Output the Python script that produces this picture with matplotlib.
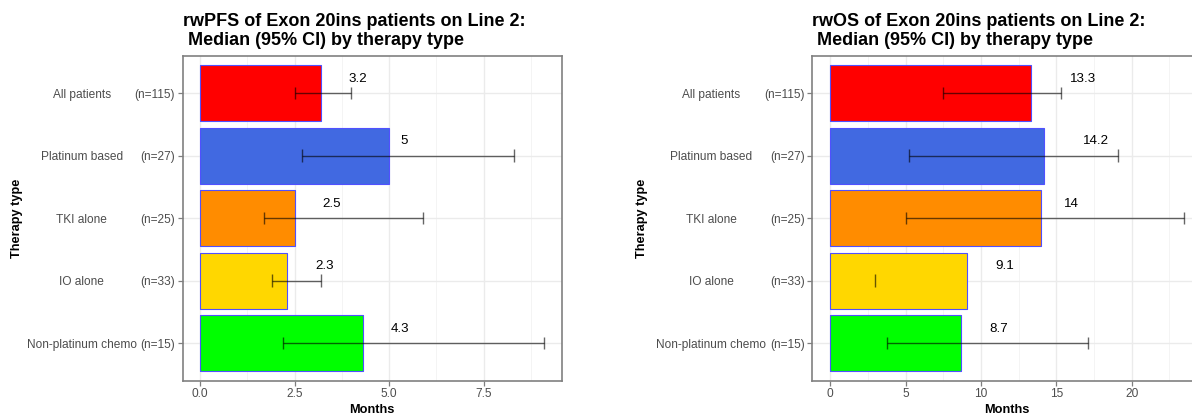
import numpy as np
import matplotlib.pyplot as plt
from matplotlib.ticker import MultipleLocator, FormatStrFormatter
from matplotlib import transforms

plt.rcParams['font.family'] = ['Liberation Sans', 'DejaVu Sans']

# therapy groups, top to bottom
therapies = ["All patients", "Platinum based", "TKI alone", "IO alone", "Non-platinum chemo"]
n_pat = [115, 27, 25, 33, 15]
bar_cols = ["#FF0000", "#4169E1", "#FF8C00", "#FFD700", "#00FF00"]

# rwPFS median and 95% CI (months)
pfs_med = [3.2, 5.0, 2.5, 2.3, 4.3]
pfs_lo = [2.5, 2.7, 1.7, 1.9, 2.2]
pfs_hi = [4.0, 8.3, 5.9, 3.2, 9.1]

# rwOS median and 95% CI (months); IO alone has no upper bound
os_med = [13.3, 14.2, 14.0, 9.1, 8.7]
os_lo = [7.5, 5.2, 5.0, 3.0, 3.8]
os_hi = [15.3, 19.1, 23.5, np.nan, 17.1]

fig = plt.figure(figsize=(11.92, 4.16), dpi=100)
ax1 = fig.add_axes([0.1533, 0.0849, 0.3178, 0.7812])
ax2 = fig.add_axes([0.6816, 0.0849, 0.3268, 0.7812])

labels_all = []
LAB_DY = 11.5  # points above the bar centre


def panel(ax, title, med, lo, hi, major, minor, fmt, ylab_px):
    y = np.arange(len(therapies))
    ax.barh(y, med, height=0.9, color=bar_cols, edgecolor="#5050FF", linewidth=0.8, zorder=2)

    # error bars with caps of 0.2 category units
    for yi, l, h in zip(y, lo, hi):
        kw = dict(color="black", alpha=0.6, linewidth=1.0, zorder=3)
        if not np.isnan(h):
            ax.hlines(yi, l, h, **kw)
            ax.vlines(h, yi - 0.1, yi + 0.1, **kw)
        ax.vlines(l, yi - 0.1, yi + 0.1, **kw)

    for yi, m in zip(y, med):
        s = "%g" % m
        t = ax.annotate(s, (m, yi), xytext=(0, LAB_DY), textcoords="offset points",
                        ha="left", va="center_baseline", fontsize=9.6, color="black", zorder=4)
        labels_all.append(t)

    top = np.nanmax(np.concatenate([med, lo, hi]))
    ax.set_xlim(-0.05 * top, top * 1.05)
    ax.set_ylim(len(therapies) - 0.4, -0.6)

    ax.xaxis.set_major_locator(MultipleLocator(major))
    ax.xaxis.set_minor_locator(MultipleLocator(minor))
    ax.xaxis.set_major_formatter(FormatStrFormatter(fmt))
    ax.set_yticks(y)
    ax.set_yticklabels(["(n=%d)" % n for n in n_pat])
    ax.tick_params(axis="both", which="major", length=3.5, width=0.9, color="#7F7F7F",
                   labelcolor="#4D4D4D", labelsize=8.6, pad=2)
    ax.tick_params(axis="x", which="minor", length=0)
    ax.grid(which="major", color="#EBEBEB", linewidth=1.0, zorder=0)
    ax.grid(which="minor", axis="x", color="#F2F2F2", linewidth=0.6, zorder=0)
    ax.set_axisbelow(True)
    for sp in ax.spines.values():
        sp.set_color("#808080")
        sp.set_linewidth(1.2)

    # therapy names centred in a column left of the counts
    trans = transforms.blended_transform_factory(ax.transAxes, ax.transData)
    trans = trans + transforms.ScaledTranslation(-101 / 100, 0, fig.dpi_scale_trans)
    for yi, name in zip(y, therapies):
        ax.text(0, yi, name, transform=trans, ha="center", va="center_baseline",
                fontsize=8.6, color="#4D4D4D")

    ax.set_xlabel("Months", fontsize=9.2, fontweight="bold", labelpad=3)
    ax.set_ylabel("Therapy type", fontsize=9.2, fontweight="bold")
    w_ax = ax.get_position().width * fig.get_figwidth() * fig.dpi
    ax.yaxis.set_label_coords(-ylab_px / w_ax, 0.5)
    ax.set_title(title, loc="left", fontsize=13, fontweight="bold", pad=8,
                 linespacing=1.15)


panel(ax1, "rwPFS of Exon 20ins patients on Line 2:\n Median (95% CI) by therapy type",
      pfs_med, pfs_lo, pfs_hi, 2.5, 1.25, "%.1f", 160)
panel(ax2, "rwOS of Exon 20ins patients on Line 2:\n Median (95% CI) by therapy type",
      os_med, os_lo, os_hi, 5, 2.5, "%d", 164)

# shift value labels right by 1.5 times their own width
fig.canvas.draw()
r = fig.canvas.get_renderer()
for t in labels_all:
    w = t.get_window_extent(r).width
    t.xyann = (1.5 * w * 72 / fig.dpi, LAB_DY)

fig.savefig("out.png", dpi=100)
